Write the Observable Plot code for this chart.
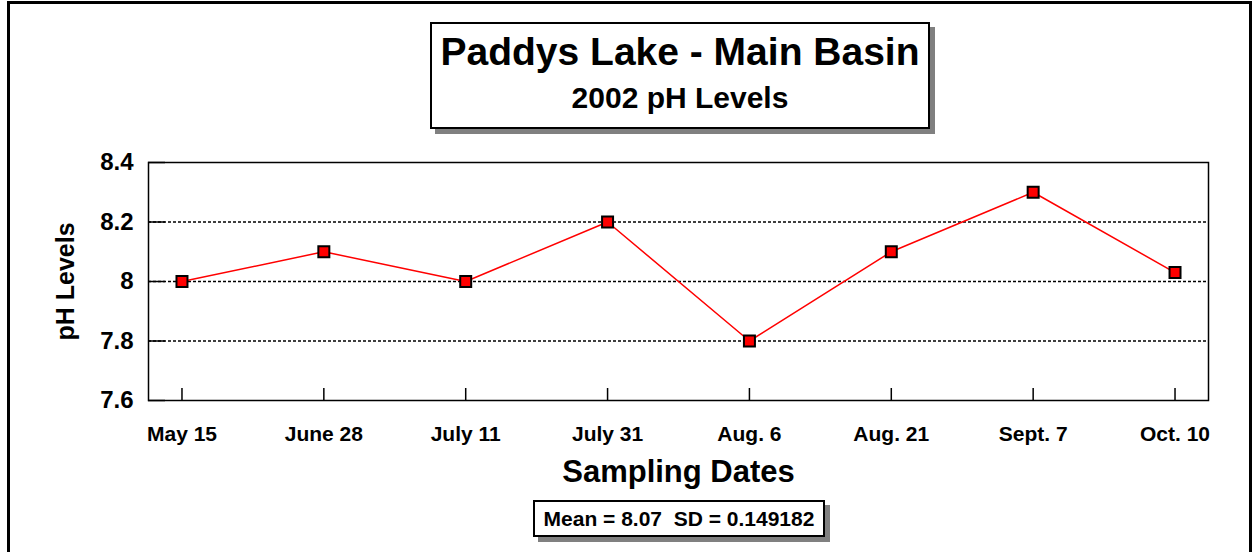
<!DOCTYPE html>
<html>
<head>
<meta charset="utf-8">
<script src="https://cdn.jsdelivr.net/npm/d3@7"></script>
<script src="https://cdn.jsdelivr.net/npm/@observablehq/plot@0.6"></script>
<style>
  html, body { margin: 0; padding: 0; background: #fff; }
  #wrap { position: relative; width: 1253px; height: 552px; overflow: hidden; font-family: "Liberation Sans", Arial, sans-serif; }
  #outer { position: absolute; left: 7px; top: 1px; width: 1245px; height: 600px; border: 3px solid #000; box-sizing: border-box; }
  #chart { position: absolute; left: 0; top: 0; }
  .box { position: absolute; background: #fff; border: 2px solid #000; box-sizing: border-box; box-shadow: 5px 5px 0 #808080; text-align: center; font-weight: bold; color: #000; }
  #titlebox { left: 430px; top: 22px; width: 500px; height: 107px; }
  #title { position: absolute; left: 0; right: 0; top: 8px; font-size: 39px; line-height: 40px; }
  #subtitle { position: absolute; left: 0; right: 0; top: 59px; font-size: 30px; line-height: 30px; }
  #statbox { left: 533px; top: 500px; width: 292px; height: 37px; font-size: 21px; line-height: 33px; white-space: pre; }
</style>
</head>
<body>
<div id="wrap">
  <div id="outer"></div>
  <div id="chart"></div>
  <div class="box" id="titlebox"><div id="title"></div><div id="subtitle"></div></div>
  <div class="box" id="statbox"></div>
</div>
<script>
const titleText = "Paddys Lake - Main Basin";
const subtitleText = "2002 pH Levels";
const statText = "Mean = 8.07  SD = 0.149182";
const xLabel = "Sampling Dates";
const yLabel = "pH Levels";
const dates = ["May 15", "June 28", "July 11", "July 31", "Aug. 6", "Aug. 21", "Sept. 7", "Oct. 10"];
const phValues = [8.0, 8.1, 8.0, 8.2, 7.8, 8.1, 8.3, 8.03];
const yTicks = [7.6, 7.8, 8.0, 8.2, 8.4];
const gridTicks = [7.8, 8.0, 8.2];

const data = dates.map((d, i) => ({date: d, ph: phValues[i]}));

document.getElementById("title").textContent = titleText;
document.getElementById("subtitle").textContent = subtitleText;
document.getElementById("statbox").textContent = statText;

const chart = Plot.plot({
  width: 1253,
  height: 552,
  marginTop: 162,
  marginBottom: 152,
  marginLeft: 148,
  marginRight: 45,
  style: {fontFamily: "Liberation Sans, Arial, sans-serif", background: "transparent", color: "#000"},
  x: {type: "point", domain: dates, padding: 0.236, round: false, label: null},
  y: {domain: [7.6, 8.4], label: null},
  marks: [
    Plot.gridY(gridTicks, {stroke: "#000", strokeOpacity: 1, strokeWidth: 1.5, strokeDasharray: "3,2"}),
    Plot.frame({stroke: "#000", strokeWidth: 1.5}),
    Plot.axisY(yTicks, {tickSize: -17, tickFormat: () => "", strokeWidth: 1.5}),
    Plot.axisY(yTicks, {tickSize: 0, tickPadding: 15, tickFormat: d => String(+d.toFixed(1)), fontSize: 24, fontWeight: "bold"}),
    Plot.axisX({tickSize: -12, tickFormat: () => "", strokeWidth: 1.5}),
    Plot.axisX({tickSize: 0, tickPadding: 26, fontSize: 21, fontWeight: "bold"}),
    Plot.text([xLabel], {frameAnchor: "bottom", dy: 72, lineAnchor: "middle", textAnchor: "middle", fontSize: 31, fontWeight: "bold"}),
    Plot.text([yLabel], {frameAnchor: "left", dx: -83, rotate: -90, lineAnchor: "middle", textAnchor: "middle", fontSize: 25, fontWeight: "bold"}),
    Plot.line(data, {x: "date", y: "ph", stroke: "#ff0000", strokeWidth: 1.5}),
    Plot.dot(data, {x: "date", y: "ph", symbol: "square", r: 6.2, fill: "#ff0000", stroke: "#000", strokeWidth: 2})
  ]
});
document.getElementById("chart").appendChild(chart);
</script>
</body>
</html>
